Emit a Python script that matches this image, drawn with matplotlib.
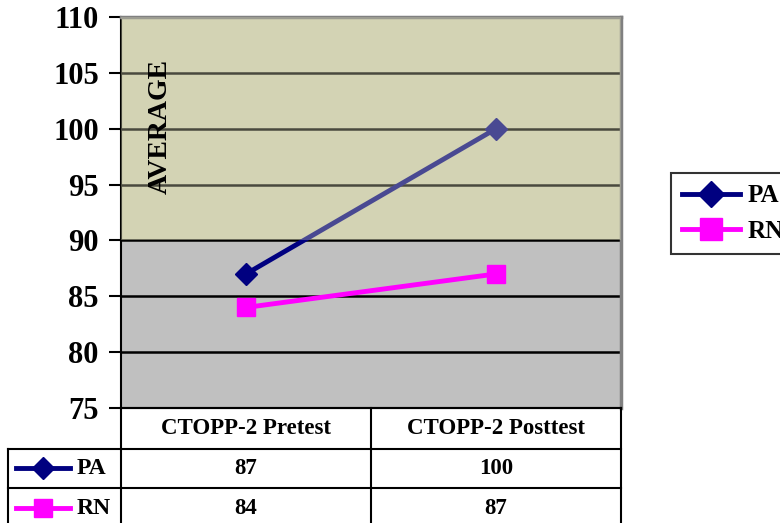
import matplotlib
matplotlib.use("Agg")
import matplotlib.pyplot as plt
from matplotlib.patches import Rectangle

plt.rcParams['font.family'] = ['Liberation Serif', 'DejaVu Serif']
plt.rcParams['font.weight'] = 'bold'

tests = ["CTOPP-2 Pretest", "CTOPP-2 Posttest"]
pa = [87, 100]
rn = [84, 87]
yticks = [75, 80, 85, 90, 95, 100, 105, 110]

navy = "#000080"
magenta = "#FF00FF"
olive = "#D3D3B4"
grey = "#C0C0C0"

W, H = 780, 523
fig = plt.figure(figsize=(W / 100, H / 100), dpi=100)

def fx(px):
    return px / W

def fy(py):
    return 1 - py / H

# plot area
L, R, T, B = 121, 621, 17, 408
ax = fig.add_axes([fx(L), fy(B), fx(R - L), fy(T) - fy(B)])
ax.set_xlim(-0.5, 1.5)
ax.set_ylim(75, 110)
ax.set_yticks(yticks)
ax.set_xticks([])
ax.tick_params(axis='y', direction='out', length=9, width=1.5, labelsize=22, pad=7)
for lab in ax.get_yticklabels():
    lab.set_fontweight('bold')

ax.axhspan(75, 90, color=grey, zorder=0)
ax.axhspan(90, 110, color=olive, zorder=0)
for y in yticks[1:-1]:
    ax.axhline(y, color='black', lw=1.8, zorder=1)

x = list(range(len(tests)))
ax.plot(x, pa, color=navy, lw=3.5, marker='D', ms=11, zorder=3, label='PA')
ax.plot(x, rn, color=magenta, lw=3.5, marker='s', ms=13, zorder=3, label='RN')

# translucent overlay over the upper band
ax.add_patch(Rectangle((-0.5, 90), 2, 20, facecolor=olive, alpha=0.35,
                       edgecolor='none', zorder=4))

ax.text(0.078, 0.72, "AVERAGE", transform=ax.transAxes, rotation=90,
        fontsize=20, fontweight='bold', ha='center', va='center', zorder=5)

for s in ['top', 'right']:
    ax.spines[s].set_color('#808080')
    ax.spines[s].set_linewidth(2.5)
ax.spines['left'].set_linewidth(1.5)
ax.spines['bottom'].set_linewidth(1.5)

leg = ax.legend(loc='upper left', bbox_to_anchor=(fx(671), fy(173)),
                bbox_transform=fig.transFigure, prop={'size': 18, 'weight': 'bold'},
                frameon=True, fancybox=False, edgecolor='black', handlelength=2.3,
                handletextpad=0.3, borderpad=0.45, labelspacing=0.5,
                borderaxespad=0, markerscale=1.2)
leg.get_frame().set_linewidth(1.5)

# data table below the plot
tax = fig.add_axes([0, 0, 1, 1])
tax.set_xlim(0, W)
tax.set_ylim(H, 0)
tax.axis('off')
rows = [408, 449, 488, 528]
cols = [8, 121, 371, 621]
lk = dict(color='black', lw=1.5)
tax.plot([cols[1], cols[3]], [rows[0], rows[0]], **lk)
for r in rows[1:3]:
    tax.plot([cols[0], cols[3]], [r, r], **lk)
tax.plot([cols[0], cols[0]], [rows[1], H], **lk)
for c in cols[1:]:
    tax.plot([c, c], [rows[0], H], **lk)

for j, name in enumerate(tests):
    cx = (cols[j + 1] + cols[j + 2]) / 2
    tax.text(cx, (rows[0] + rows[1]) / 2, name, fontsize=16.5, fontweight='bold',
             ha='center', va='center')
series = [("PA", pa, navy, 'D', 11, 468), ("RN", rn, magenta, 's', 13, 508)]
for i, (name, vals, col, mk, ms, cy) in enumerate(series):
    tax.plot([16, 70], [cy, cy], color=col, lw=3.5)
    tax.plot([43], [cy], color=col, marker=mk, ms=ms)
    tax.text(77, cy + 1, name, fontsize=17, fontweight='bold', ha='left', va='center')
    for j, v in enumerate(vals):
        cx = (cols[j + 1] + cols[j + 2]) / 2
        tax.text(cx, cy, str(v), fontsize=16.5, fontweight='bold', ha='center', va='center')

fig.savefig("out.png", dpi=100)
